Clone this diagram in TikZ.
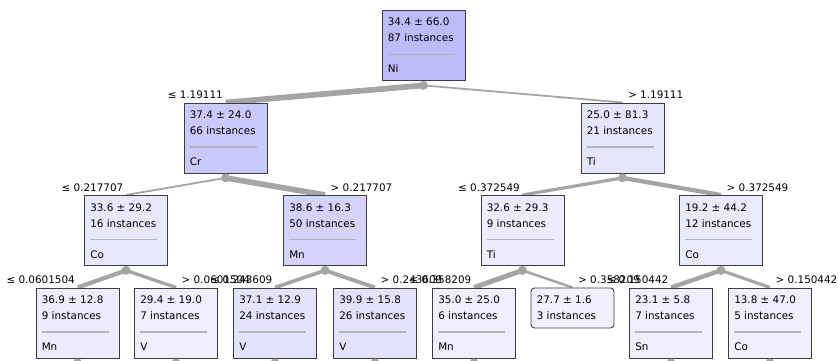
\documentclass[tikz,border=0pt]{standalone}
\usepackage{fontspec}
\setmainfont{DejaVu Sans}
\usepackage{xcolor}
\usepackage{tikz}
\usetikzlibrary{backgrounds}

\definecolor{treeblue}{RGB}{188,188,250}
\definecolor{edgegray}{RGB}{165,165,165}
\definecolor{rulegray}{RGB}{180,180,180}
\definecolor{framegray}{RGB}{60,60,60}

\tikzset{
  treebox/.style={draw=framegray, line width=0.9pt, anchor=north, minimum width=83pt, minimum height=70pt, inner sep=0pt},
  boxtext/.style={anchor=base west, inner sep=0pt},
  splitdot/.style={circle, fill=edgegray, inner sep=0pt, minimum size=9pt},
  lablo/.style={anchor=base east, inner sep=0pt},
  labhi/.style={anchor=base west, inner sep=0pt}
}

\begin{document}
\begin{tikzpicture}[x=1pt, y=-1pt, font=\fontsize{10.4}{12}\selectfont]
  \useasboundingbox (0,0) rectangle (838,361);
  \clip (0,0) rectangle (838,361);

  % Tree nodes: name/centre/top/mean/instances/split attribute
  \foreach \nm/\cx/\ty/\val/\cnt/\att in {
      root/423.5/10/34.4 ± 66.0/87/Ni,
      l/225.5/102.5/37.4 ± 24.0/66/Cr,
      r/622.5/102.5/25.0 ± 81.3/21/Ti,
      ll/126/195/33.6 ± 29.2/16/Co,
      lr/325/195/38.6 ± 16.3/50/Mn,
      rl/522.5/195/32.6 ± 29.3/9/Ti,
      rr/721/195/19.2 ± 44.2/12/Co,
      lll/77.5/287.5/36.9 ± 12.8/9/Mn,
      llr/176/287.5/29.4 ± 19.0/7/V,
      lrl/275/287.5/37.1 ± 12.9/24/V,
      lrr/375/287.5/39.9 ± 15.8/26/V,
      rll/474/287.5/35.0 ± 25.0/6/Mn,
      rrl/671/287.5/23.1 ± 5.8/7/Sn,
      rrr/770/287.5/13.8 ± 47.0/5/Co} {
    \pgfmathtruncatemacro\tint{20+80*\cnt/87}
    \node[treebox, fill=treeblue!\tint!white] (\nm) at (\cx,\ty) {};
    \node[boxtext] (\nm-val) at ([shift={(6,16)}]\nm.north west) {\val};
    \node[boxtext] (\nm-cnt) at ([shift={(6,32)}]\nm.north west) {\cnt\ instances};
    \draw[rulegray, line width=1.2pt] ([shift={(6,44.5)}]\nm.north west) -- ++(67,0);
    \node[boxtext] (\nm-att) at ([shift={(6,63)}]\nm.north west) {\att};
    \node[splitdot] (\nm-dot) at ([shift={(0,4.5)}]\nm.south) {};
  }

  % Leaf without further split
  \node[treebox, minimum height=40pt, rounded corners=3.5pt, fill=treeblue!23!white] (rlr) at (572.5,287.5) {};
  \node[boxtext] (rlr-val) at ([shift={(6,16)}]rlr.north west) {27.7 ± 1.6};
  \node[boxtext] (rlr-cnt) at ([shift={(6,32)}]rlr.north west) {3 instances};

  % Branches: parent/child/instances of parent/of child/threshold/label side/offset
  \begin{scope}[on background layer]
    \foreach \pa/\ch/\np/\nc/\lab/\sty/\dx in {
        root/l/87/66/≤ 1.19111/lablo/-2.5,
        root/r/87/21/> 1.19111/labhi/5.5,
        l/ll/66/16/≤ 0.217707/lablo/-2.5,
        l/lr/66/50/> 0.217707/labhi/5.5,
        r/rl/21/9/≤ 0.372549/lablo/-2.5,
        r/rr/21/12/> 0.372549/labhi/5.5,
        ll/lll/16/9/≤ 0.0601504/lablo/-2.5,
        ll/llr/16/7/> 0.0601504/labhi/5.5,
        lr/lrl/50/24/≤ 0.243609/lablo/-2.5,
        lr/lrr/50/26/> 0.243609/labhi/5.5,
        rl/rll/9/6/≤ 0.358209/lablo/-2.5,
        rl/rlr/9/3/> 0.358209/labhi/5.5,
        rr/rrl/12/7/≤ 0.150442/lablo/-2.5,
        rr/rrr/12/5/> 0.150442/labhi/5.5} {
      \pgfmathsetmacro\edgew{7.5*\nc/\np}
      \draw[edgegray, line width=\edgew pt] (\pa-dot.center) -- (\ch.north);
      \node[\sty] (\ch-lab) at ([shift={(\dx,-4)}]\ch.north) {\lab};
    }
  \end{scope}
\end{tikzpicture}
\end{document}
